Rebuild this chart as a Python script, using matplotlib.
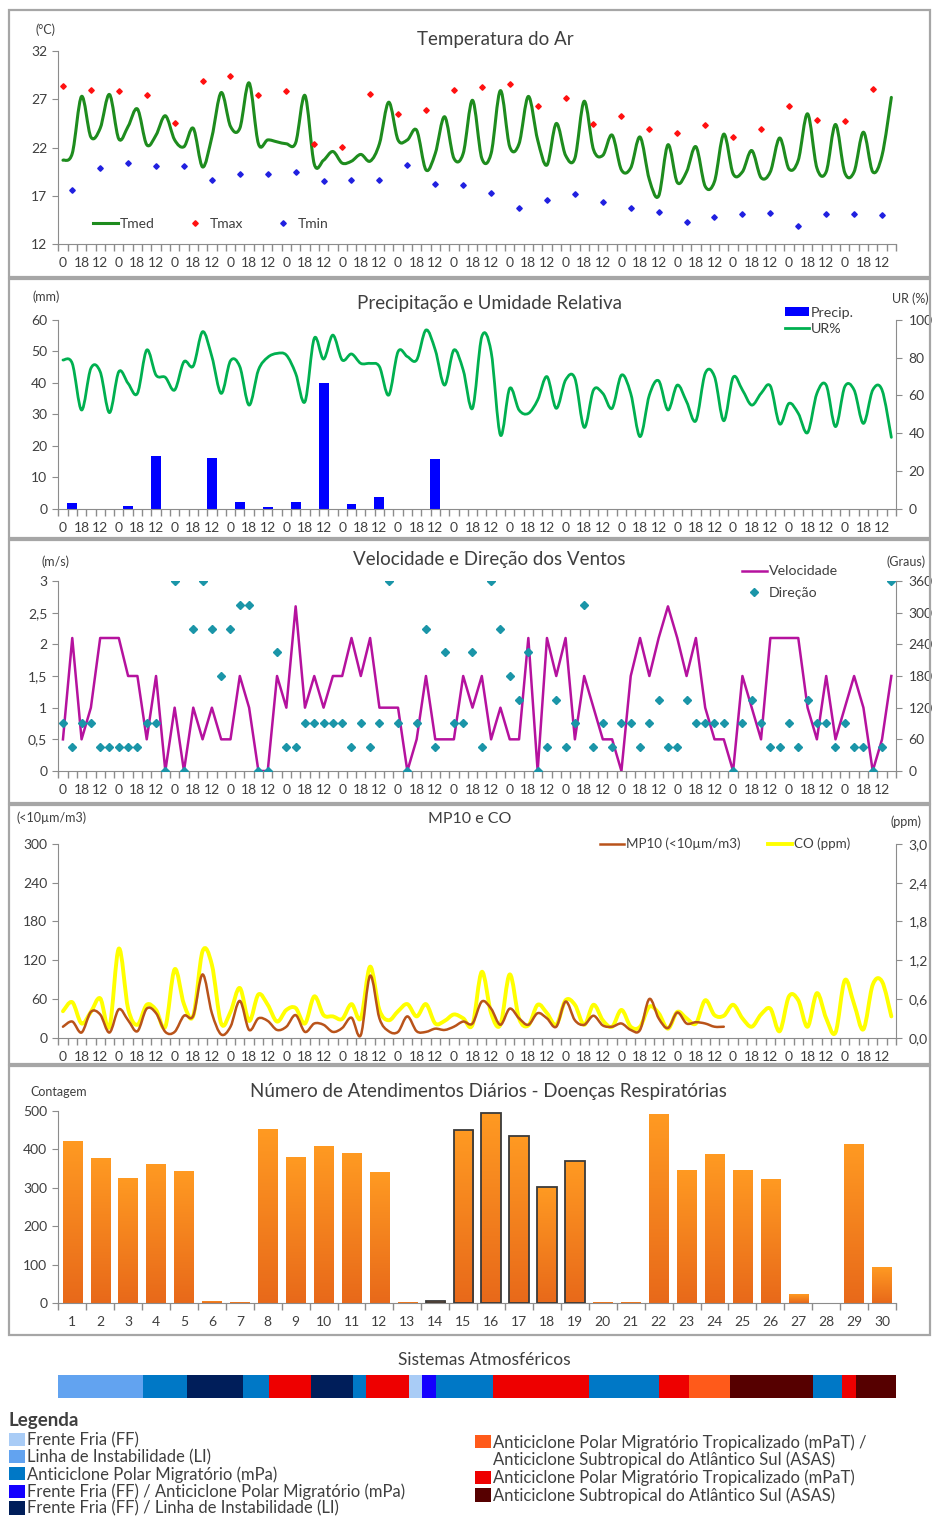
import numpy as np
import matplotlib
matplotlib.use("Agg")
import matplotlib.pyplot as plt
from matplotlib.path import Path
from matplotlib.patches import PathPatch, Rectangle, Patch
from matplotlib.lines import Line2D
from matplotlib.colors import LinearSegmentedColormap

plt.rcParams['font.family'] = ['Lato', 'DejaVu Sans']

# ---------------- data ----------------
obs_hours = ['0', '12', '18'] * 30          # 3 observations per day, 30 days
days = [str(d) for d in range(1, 31)]

tmed = [20.7, 21.4, 27.3, 23.1, 24.0, 27.5, 22.9, 24.2, 26.0, 22.3,
        23.3, 25.3, 22.8, 22.1, 24.0, 20.0, 23.1, 27.7, 24.2, 24.0,
        28.7, 22.4, 22.8, 22.6, 22.4, 22.5, 27.4, 20.3, 20.7, 21.6,
        20.4, 20.6, 21.3, 20.6, 22.4, 26.7, 22.8, 22.8, 23.8, 19.7,
        21.4, 25.2, 20.9, 21.4, 26.9, 20.9, 21.4, 27.9, 22.1, 22.4,
        27.3, 22.8, 20.2, 24.5, 21.2, 20.9, 26.8, 21.8, 21.2, 23.3,
        19.7, 19.9, 23.1, 18.7, 17.0, 22.3, 18.4, 19.5, 22.1, 18.0,
        18.5, 23.4, 19.3, 19.5, 21.7, 18.9, 19.5, 23.0, 19.8, 20.7,
        25.5, 19.9, 19.5, 24.4, 19.4, 19.5, 23.6, 19.5, 21.2, 27.2]
tmax = [28.4, 28.0, 27.9, 27.4, 24.6, 28.9, 29.4, 27.4, 27.9, 22.4,
        22.1, 27.5, 25.5, 25.9, 28.0, 28.3, 28.6, 26.3, 27.1, 24.4,
        25.3, 23.9, 23.5, 24.3, 23.1, 23.9, 26.3, 24.9, 24.8, 28.1]
tmin = [17.6, 19.9, 20.4, 20.1, 20.1, 18.7, 19.3, 19.3, 19.5, 18.6,
        18.7, 18.7, 20.2, 18.2, 18.1, 17.3, 15.8, 16.6, 17.2, 16.4,
        15.8, 15.3, 14.3, 14.8, 15.1, 15.2, 13.9, 15.1, 15.1, 15.0]

precip = [1.8, 0, 0.8, 16.9, 0, 16.0, 2.1, 0.5, 2.1, 40.1,
          1.4, 3.8, 0, 15.7, 0, 0, 0, 0, 0, 0,
          0, 0, 0, 0, 0, 0, 0, 0, 0, 0]          # daily, at 12h obs
ur = [78.8, 77.0, 52.3, 74.4, 72.6, 50.9, 72.6, 66.4, 61.1, 84.1,
      70.8, 69.6, 62.9, 77.9, 75.6, 93.8, 80.6, 61.1, 78.4, 75.3,
      54.9, 73.5, 80.2, 82.3, 81.4, 71.7, 56.7, 90.3, 79.3, 92.0,
      78.8, 82.0, 77.0, 77.0, 75.3, 60.2, 83.2, 80.6, 78.8, 94.7,
      84.1, 65.5, 84.1, 73.5, 53.2, 91.2, 83.2, 39.0, 63.8, 52.3,
      50.5, 57.6, 70.0, 53.2, 68.2, 69.1, 43.1, 62.9, 61.1, 53.2,
      70.8, 61.1, 38.2, 60.2, 67.8, 52.3, 65.5, 56.7, 46.6, 71.7,
      70.0, 46.6, 69.6, 62.9, 54.9, 61.1, 65.0, 44.9, 55.8, 50.5,
      40.3, 61.1, 65.5, 43.5, 64.7, 62.9, 45.2, 62.9, 62.9, 37.8]

vel = [0.5, 2.1, 0.5, 1.0, 2.1, 2.1, 2.1, 1.5, 1.5, 0.5,
       1.5, 0.0, 1.0, 0.0, 1.0, 0.5, 1.0, 0.5, 0.5, 1.5,
       1.0, 0.0, 0.0, 1.5, 1.0, 2.6, 1.0, 1.5, 1.0, 1.5,
       1.5, 2.1, 1.5, 2.1, 1.0, 1.0, 1.0, 0.0, 0.5, 1.5,
       0.5, 0.5, 0.5, 1.5, 1.0, 1.5, 0.5, 1.0, 0.5, 0.5,
       2.1, 0.0, 2.1, 1.5, 2.1, 0.5, 1.5, 1.0, 0.5, 0.5,
       0.0, 1.5, 2.1, 1.5, 2.1, 2.6, 2.1, 1.5, 2.1, 1.0,
       0.5, 0.5, 0.0, 1.5, 1.0, 0.5, 2.1, 2.1, 2.1, 2.1,
       1.0, 0.5, 1.5, 0.5, 1.0, 1.5, 1.0, 0.0, 0.5, 1.5]
direc = [90, 45, 90, 90, 45, 45, 45, 45, 45, 90,
         90, 0, 360, 0, 270, 360, 270, 180, 270, 315,
         315, 0, 0, 225, 45, 45, 90, 90, 90, 90,
         90, 45, 90, 45, 90, 360, 90, 0, 90, 270,
         45, 225, 90, 90, 225, 45, 360, 270, 180, 135,
         225, 0, 45, 135, 45, 90, 315, 45, 90, 45,
         90, 90, 45, 90, 135, 45, 45, 135, 90, 90,
         90, 90, 0, 90, 135, 90, 45, 45, 90, 45,
         135, 90, 90, 45, 90, 45, 45, 0, 45, 360]

mp10 = [17, 25, 8, 40, 36, 8, 44, 27, 10, 45,
        38, 9, 9, 34, 34, 98, 38, 5, 17, 57,
        12, 30, 26, 12, 17, 35, 9, 22, 20, 9,
        15, 31, 4, 96, 30, 10, 9, 33, 10, 9,
        14, 12, 17, 25, 22, 56, 45, 20, 45, 30,
        20, 38, 30, 17, 56, 27, 20, 34, 19, 17,
        22, 12, 12, 60, 30, 15, 39, 22, 24, 22,
        17, 17]
co = [0.41, 0.55, 0.22, 0.40, 0.61, 0.17, 1.38, 0.45, 0.20, 0.51,
      0.43, 0.17, 1.06, 0.52, 0.34, 1.34, 1.13, 0.22, 0.40, 0.77,
      0.26, 0.67, 0.51, 0.25, 0.43, 0.46, 0.22, 0.64, 0.35, 0.33,
      0.29, 0.52, 0.30, 1.10, 0.43, 0.27, 0.41, 0.52, 0.33, 0.52,
      0.22, 0.26, 0.36, 0.30, 0.20, 1.02, 0.38, 0.20, 0.98, 0.30,
      0.19, 0.51, 0.38, 0.20, 0.58, 0.51, 0.20, 0.51, 0.27, 0.17,
      0.43, 0.17, 0.17, 0.48, 0.38, 0.14, 0.40, 0.30, 0.22, 0.58,
      0.35, 0.34, 0.51, 0.30, 0.17, 0.36, 0.45, 0.10, 0.64, 0.58,
      0.17, 0.69, 0.30, 0.08, 0.89, 0.52, 0.13, 0.82, 0.87, 0.33]

atend = [422, 378, 326, 363, 343, 6, 3, 452, 380, 410,
         390, 340, 3, 6, 451, 496, 435, 302, 369, 3,
         3, 491, 347, 387, 347, 323, 23, 0, 415, 93]
atend_highlight = [14, 15, 16, 17, 18, 19]

sys_bounds = [0, 3.05, 4.6, 6.63, 7.56, 9.05, 10.55, 11.02, 12.56, 13.02,
              13.53, 15.56, 19.02, 21.53, 22.58, 24.05, 27.04, 28.06, 28.55, 30]
sys_codes = ['LI', 'mPa', 'FF/LI', 'mPa', 'mPaT', 'FF/LI', 'mPa', 'mPaT', 'FF',
             'FF/mPa', 'mPa', 'mPaT', 'mPa', 'mPaT', 'mPaT/ASAS', 'ASAS', 'mPa',
             'mPaT', 'ASAS']
sys_colors = {'FF': '#A9CCF6', 'LI': '#62A3F0', 'mPa': '#0078C6',
              'FF/mPa': '#1400FF', 'FF/LI': '#001E5A', 'mPaT/ASAS': '#FF5A1A',
              'mPaT': '#EE0000', 'ASAS': '#560000'}
sys_left = [('FF', 'Frente Fria (FF)'), ('LI', 'Linha de Instabilidade (LI)'),
            ('mPa', 'Anticiclone Polar Migratório (mPa)'),
            ('FF/mPa', 'Frente Fria (FF) / Anticiclone Polar Migratório (mPa)'),
            ('FF/LI', 'Frente Fria (FF) / Linha de Instabilidade (LI)')]
sys_right = [('mPaT/ASAS', 'Anticiclone Polar Migratório Tropicalizado (mPaT) /'),
             (None, 'Anticiclone Subtropical do Atlântico Sul (ASAS)'),
             ('mPaT', 'Anticiclone Polar Migratório Tropicalizado (mPaT)'),
             ('ASAS', 'Anticiclone Subtropical do Atlântico Sul (ASAS)')]

# ---------------- figure helpers ----------------
W, H = 932, 1518
fig = plt.figure(figsize=(W / 100, H / 100), dpi=100)
TXT = '#3F3F3F'
AXC = '#8C8C8C'
X0, X1 = 58.3, 896


def px_axes(x0, y0, x1, y1):
    return fig.add_axes([x0 / W, 1 - y1 / H, (x1 - x0) / W, (y1 - y0) / H])


def ftext(x, y, s, **kw):
    kw.setdefault('ha', 'center')
    kw.setdefault('va', 'center')
    kw.setdefault('color', TXT)
    return fig.text(x / W, 1 - y / H, s, **kw)


def smooth_path(xs, ys):
    xs = np.asarray(xs, float)
    ys = np.asarray(ys, float)
    n = len(xs)
    pts = np.column_stack([xs, ys])
    verts = [pts[0]]
    codes = [Path.MOVETO]
    for i in range(n - 1):
        p0 = pts[max(i - 1, 0)]
        p1 = pts[i]
        p2 = pts[i + 1]
        p3 = pts[min(i + 2, n - 1)]
        verts += [p1 + (p2 - p0) / 6.0, p2 - (p3 - p1) / 6.0, p2]
        codes += [Path.CURVE4] * 3
    return Path(verts, codes)


def add_smooth(ax, xs, ys, color, lw, z=3):
    ax.add_patch(PathPatch(smooth_path(xs, ys), fill=False, edgecolor=color,
                           lw=lw, zorder=z, capstyle='round', joinstyle='round'))


def style_left(ax, ylim, ticks, labels=None):
    ax.set_ylim(*ylim)
    ax.set_yticks(ticks)
    if labels is not None:
        ax.set_yticklabels(labels)
    for s in ['top', 'right']:
        ax.spines[s].set_visible(False)
    for s in ['left', 'bottom']:
        ax.spines[s].set_color(AXC)
    ax.tick_params(axis='y', length=4, color=AXC, labelsize=10, labelcolor=TXT, pad=4)
    ax.set_facecolor('none')


def style_right(ax, ylim, ticks, labels=None):
    ax.set_ylim(*ylim)
    ax.set_yticks(ticks)
    if labels is not None:
        ax.set_yticklabels(labels)
    for s in ['top', 'left', 'bottom']:
        ax.spines[s].set_visible(False)
    ax.spines['right'].set_color(AXC)
    ax.tick_params(axis='y', length=4, color=AXC, labelsize=10, labelcolor=TXT, pad=5)


def style_cat_x(ax, labels, every):
    n = len(labels)
    ax.set_xlim(-0.5, n - 0.5)
    ax.set_xticks(np.arange(n + 1) - 0.5)
    ax.set_xticklabels([])
    ax.set_xticks(np.arange(0, n, every), minor=True)
    ax.set_xticklabels(labels[::every], minor=True)
    ax.tick_params(axis='x', which='major', length=5, width=1, color=AXC, direction='out')
    ax.tick_params(axis='x', which='minor', length=0, pad=9.4, labelsize=10, labelcolor=TXT)


# ---------------- panel frames ----------------
for (y0, y1) in [(10, 277), (279, 538), (540, 803), (805, 1064), (1066, 1335)]:
    fig.add_artist(Rectangle((9 / W, 1 - y1 / H), 921 / W, (y1 - y0) / H,
                             transform=fig.transFigure, fill=False,
                             edgecolor='#A6A6A6', lw=1.6))

obs_x = np.arange(90)
day_idx = np.arange(30)

# ---------------- 1. Temperature ----------------
ax1 = px_axes(X0, 51, X1, 244.3)
style_left(ax1, (12, 32), [12, 17, 22, 27, 32])
style_cat_x(ax1, obs_hours, 2)
add_smooth(ax1, obs_x, tmed, '#1E8C1E', 2.2)
ax1.plot(day_idx * 3, tmax, ls='none', marker='D', ms=2.8, color='#FF1010', zorder=4)
ax1.plot(day_idx * 3 + 1, tmin, ls='none', marker='D', ms=2.8, color='#2020E0', zorder=4)
h1 = [Line2D([], [], color='#1E8C1E', lw=2.2),
      Line2D([], [], ls='none', marker='D', ms=2.8, color='#FF1010'),
      Line2D([], [], ls='none', marker='D', ms=2.8, color='#2020E0')]
fig.legend(h1, ['Tmed', 'Tmax', 'Tmin'], loc='center left',
           bbox_to_anchor=(93 / W, 1 - 224 / H), ncol=3, frameon=False,
           fontsize=10, handlelength=1.8, handletextpad=0.15, columnspacing=2.0,
           borderpad=0, borderaxespad=0, labelcolor=TXT)
ftext(495, 40, 'Temperatura do Ar', fontsize=13.5)
ftext(45, 30, '(°C)', fontsize=9)

# ---------------- 2. Precipitation & RH ----------------
ax2 = px_axes(X0, 320, X1, 508.7)
style_left(ax2, (0, 60), np.arange(0, 61, 10))
style_cat_x(ax2, obs_hours, 2)
ax2.bar(day_idx * 3 + 1, precip, width=1.07, color='#0000FF', zorder=2)
ax2r = ax2.twinx()
style_right(ax2r, (0, 100), np.arange(0, 101, 20))
add_smooth(ax2r, obs_x, ur, '#00B050', 2.0)
h2 = [Patch(facecolor='#0000FF'), Line2D([], [], color='#00B050', lw=2)]
fig.legend(h2, ['Precip.', 'UR%'], loc='upper left',
           bbox_to_anchor=(785 / W, 1 - 307 / H), frameon=False, fontsize=10.3,
           handlelength=1.7, handleheight=0.6, handletextpad=0.12, labelspacing=0.28,
           borderpad=0, borderaxespad=0, labelcolor=TXT)
ftext(490, 303, 'Precipitação e Umidade Relativa', fontsize=13.5)
ftext(46, 297, '(mm)', fontsize=9)
ftext(910, 299, 'UR (%)', fontsize=9)

# ---------------- 3. Wind ----------------
ax3 = px_axes(X0, 581, X1, 771)
style_left(ax3, (0, 3), np.arange(0, 3.01, 0.5),
           ['0', '0,5', '1', '1,5', '2', '2,5', '3'])
style_cat_x(ax3, obs_hours, 2)
ax3.plot(obs_x, vel, color='#B5129E', lw=1.8, zorder=3)
ax3r = ax3.twinx()
style_right(ax3r, (0, 360), np.arange(0, 361, 60))
ax3r.plot(obs_x, direc, ls='none', marker='D', ms=3.6, color='#1A95A8', zorder=4)
ax3r.set_xlim(-0.5, 89.5)
h3 = [Line2D([], [], color='#B5129E', lw=1.8),
      Line2D([], [], ls='none', marker='D', ms=3.6, color='#1A95A8')]
fig.legend(h3, ['Velocidade', 'Direção'], loc='upper left',
           bbox_to_anchor=(742 / W, 1 - 565.5 / H), frameon=False, fontsize=10.2,
           handlelength=1.75, handletextpad=0.12, labelspacing=0.7,
           borderpad=0, borderaxespad=0, labelcolor=TXT)
ftext(489, 559, 'Velocidade e Direção dos Ventos', fontsize=13.5)
ftext(56, 562, '(m/s)', fontsize=9)
ftext(906, 562, '(Graus)', fontsize=9)

# ---------------- 4. MP10 & CO ----------------
ax4 = px_axes(X0, 844, X1, 1037.7)
style_left(ax4, (0, 300), np.arange(0, 301, 60))
style_cat_x(ax4, obs_hours, 2)
ax4r = ax4.twinx()
style_right(ax4r, (0, 3), np.arange(0, 3.01, 0.6),
            ['0,0', '0,6', '1,2', '1,8', '2,4', '3,0'])
ax4.set_zorder(ax4r.get_zorder() + 1)
ax4.patch.set_visible(False)
add_smooth(ax4r, obs_x, co, '#FFFF00', 2.8)
add_smooth(ax4, np.arange(len(mp10)), mp10, '#B9531A', 1.8)
h4 = [Line2D([], [], color='#B9531A', lw=1.8), Line2D([], [], color='#FFFF00', lw=2.8)]
fig.legend(h4, ['MP10 (<10µm/m3)', 'CO (ppm)'], loc='center left',
           bbox_to_anchor=(600 / W, 1 - 844 / H), ncol=2, frameon=False, fontsize=9.6,
           handlelength=1.8, handletextpad=0.15, columnspacing=2.05,
           borderpad=0, borderaxespad=0, labelcolor=TXT)
ftext(470, 819, 'MP10 e CO', fontsize=11.5)
ftext(52, 818, '(<10µm/m3)', fontsize=9)
ftext(906, 822, '(ppm)', fontsize=9)

# ---------------- 5. Daily respiratory attendances ----------------
ax5 = px_axes(X0, 1111, X1, 1303)
style_left(ax5, (0, 500), np.arange(0, 501, 100))
style_cat_x(ax5, days, 1)
edges = ['#3A3A3A' if int(d) in atend_highlight else 'none' for d in days]
lws = [1.3 if int(d) in atend_highlight else 0 for d in days]
bars = ax5.bar(np.arange(30), atend, width=0.69, facecolor='none',
               edgecolor=edges, linewidth=lws, zorder=3)
ocmap = LinearSegmentedColormap.from_list('org', ['#E8691A', '#FF9A22'])
grad = np.linspace(0, 1, 128).reshape(-1, 1)
for b in bars:
    h = b.get_height()
    if h <= 0:
        continue
    im = ax5.imshow(grad, extent=[b.get_x(), b.get_x() + b.get_width(), 0, h],
                    origin='lower', cmap=ocmap, aspect='auto', zorder=2,
                    interpolation='bilinear')
    im.set_clip_path(b)
ax5.set_xlim(-0.5, 29.5)
ax5.set_ylim(0, 500)
ftext(488, 1091, 'Número de Atendimentos Diários - Doenças Respiratórias', fontsize=13.5)
ftext(59, 1092, 'Contagem', fontsize=9)

# ---------------- 6. Atmospheric systems ----------------
ax6 = px_axes(X0, 1375, X1, 1398)
starts = np.array(sys_bounds[:-1])
widths = np.diff(sys_bounds)
ax6.barh(0.5, widths, left=starts, height=1.0,
         color=[sys_colors[c] for c in sys_codes], linewidth=0)
ax6.set_xlim(0, 30)
ax6.set_ylim(0, 1)
ax6.axis('off')
ftext(484, 1360, 'Sistemas Atmosféricos', fontsize=12.5)


def sys_patch(code):
    if code is None:
        return Patch(facecolor='none', edgecolor='none')
    return Patch(facecolor=sys_colors[code])


legL = fig.legend([sys_patch(c) for c, _ in sys_left],
                  [t for _, t in sys_left], loc='upper left',
                  bbox_to_anchor=(9 / W, 1 - 1412 / H), frameon=False,
                  title='Legenda', title_fontproperties={'weight': 'bold', 'size': 13.5},
                  alignment='left', fontsize=12, handlelength=0.95, handleheight=0.85,
                  handletextpad=0.12, labelspacing=0.05, borderpad=0, borderaxespad=0,
                  labelcolor=TXT)
legL.get_title().set_color(TXT)
legL._legend_box.sep = 2.2
fig.legend([sys_patch(c) for c, _ in sys_right],
           [t for _, t in sys_right], loc='upper left',
           bbox_to_anchor=(475 / W, 1 - 1434 / H), frameon=False,
           fontsize=12, handlelength=0.95, handleheight=0.85,
           handletextpad=0.12, labelspacing=0.07, borderpad=0, borderaxespad=0,
           labelcolor=TXT)

fig.savefig('out.png', dpi=100, facecolor='white')
